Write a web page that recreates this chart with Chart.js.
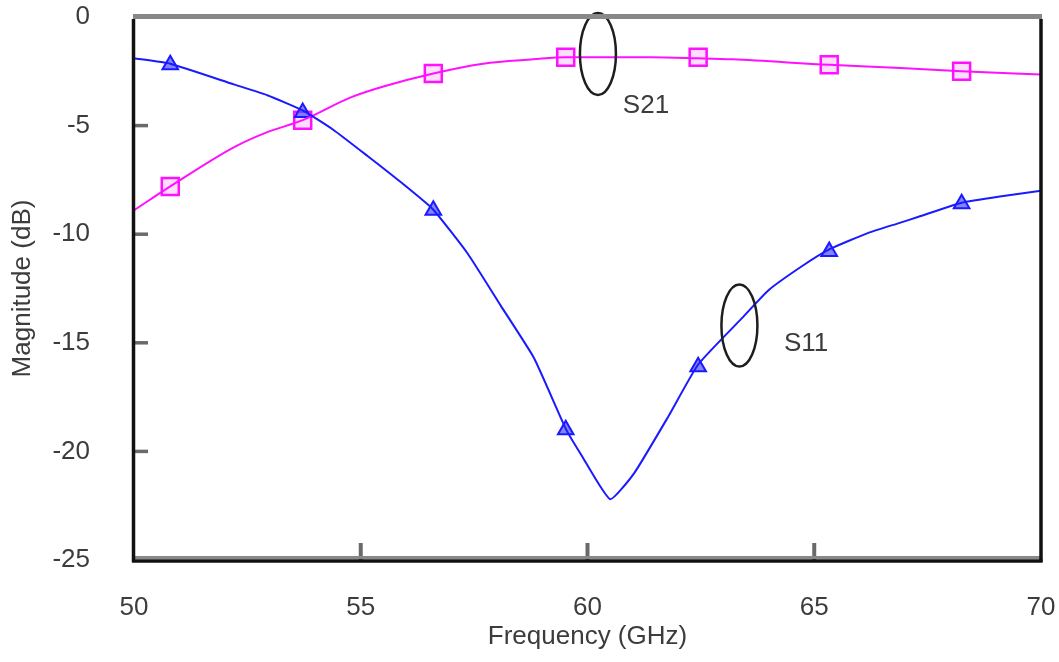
<!DOCTYPE html>
<html>
<head>
<meta charset="utf-8">
<script src="https://cdn.jsdelivr.net/npm/chart.js@4"></script>
<style>
  html, body { margin: 0; padding: 0; background: #fff; }
  #wrap { width: 1059px; height: 662px; }
</style>
</head>
<body>
<div id="wrap"><canvas id="chart" width="1059" height="662"></canvas></div>
<script>
// curves (GHz, dB)
const s11Freq = [50.0, 50.8, 52.2, 52.94, 53.72, 54.4, 55.15, 55.88, 56.59, 57.36, 58.09, 58.82, 59.52, 59.86, 60.5, 61.03, 61.78, 62.44, 63.39, 63.98, 64.71, 65.33, 66.18, 66.85, 67.3, 68.25, 69.13, 70.0];
const s11Mag  = [-1.9, -2.15, -3.1, -3.6, -4.3, -5.2, -6.4, -7.6, -8.85, -10.9, -13.3, -15.7, -18.95, -20.15, -22.2, -21.0, -18.4, -16.0, -13.9, -12.6, -11.5, -10.7, -9.95, -9.5, -9.2, -8.55, -8.25, -8.0];

const s21Freq = [50.0, 50.8, 52.2, 52.94, 53.72, 54.78, 55.5, 56.6, 57.7, 58.8, 59.52, 61.4, 62.44, 63.2, 65.33, 66.9, 68.25, 70.0];
const s21Mag  = [-8.9, -7.8, -6.0, -5.3, -4.75, -3.7, -3.2, -2.6, -2.15, -1.95, -1.85, -1.85, -1.9, -1.95, -2.2, -2.35, -2.5, -2.65];

// marker positions
const markerFreq = [50.8, 53.72, 56.6, 59.52, 62.44, 65.33, 68.25];
const s11Marks   = [-2.2, -4.4, -8.9, -19.0, -16.1, -10.8, -8.6];
const s21Marks   = [-7.8, -4.75, -2.6, -1.85, -1.85, -2.2, -2.5];

const xTicks = [50, 55, 60, 65, 70];
const yTicks = [0, -5, -10, -15, -20, -25];

const TEXT  = '#3c3c3c';
const FONT  = "'Liberation Sans', Arial, sans-serif";
const BLUE  = '#1a1aff';
const PINK  = '#ff10ff';

const zip = (xs, ys) => xs.map((x, i) => ({ x, y: ys[i] }));

// ellipse callouts + labels, and the frame with inward ticks
const decorPlugin = {
  id: 'decor',
  afterDatasetsDraw(chart) {
    const { ctx, scales: { x, y } } = chart;
    ctx.save();
    ctx.strokeStyle = '#1e1e1e';
    ctx.lineWidth = 2.5;
    [[60.23, -1.7], [63.35, -14.2]].forEach(([fx, fy]) => {
      ctx.beginPath();
      ctx.ellipse(x.getPixelForValue(fx), y.getPixelForValue(fy), 18, 41, 0, 0, Math.PI * 2);
      ctx.stroke();
    });
    ctx.fillStyle = TEXT;
    ctx.font = `26px ${FONT}`;
    ctx.textAlign = 'center';
    ctx.textBaseline = 'middle';
    ctx.fillText('S21', x.getPixelForValue(61.29), y.getPixelForValue(-4.1));
    ctx.fillText('S11', x.getPixelForValue(64.82), y.getPixelForValue(-15.07));
    ctx.restore();
  },
  afterDraw(chart) {
    const { ctx, chartArea: a, scales: { x, y } } = chart;
    ctx.save();
    // inward ticks
    ctx.strokeStyle = '#6a6a6a';
    ctx.lineWidth = 3.5;
    yTicks.slice(1, -1).forEach(v => {
      const py = y.getPixelForValue(v);
      ctx.beginPath(); ctx.moveTo(a.left, py); ctx.lineTo(a.left + 14, py); ctx.stroke();
    });
    ctx.lineWidth = 4;
    xTicks.slice(1, -1).forEach(v => {
      const px = x.getPixelForValue(v);
      ctx.beginPath(); ctx.moveTo(px, a.bottom); ctx.lineTo(px, a.bottom - 17); ctx.stroke();
    });
    // frame
    ctx.strokeStyle = '#888';
    ctx.lineWidth = 5;
    ctx.beginPath(); ctx.moveTo(a.left - 1, a.top - 0.5); ctx.lineTo(a.right + 1, a.top - 0.5); ctx.stroke();
    ctx.lineWidth = 3;
    ctx.beginPath(); ctx.moveTo(a.left, a.bottom - 2.5); ctx.lineTo(a.right, a.bottom - 2.5); ctx.stroke();
    ctx.strokeStyle = '#111';
    ctx.lineWidth = 3.5;
    ctx.beginPath(); ctx.moveTo(a.left - 0.5, a.top + 2); ctx.lineTo(a.left - 0.5, a.bottom + 2); ctx.stroke();
    ctx.beginPath(); ctx.moveTo(a.right, a.top + 2); ctx.lineTo(a.right, a.bottom + 2); ctx.stroke();
    ctx.beginPath(); ctx.moveTo(a.left - 2, a.bottom + 1); ctx.lineTo(a.right + 1.5, a.bottom + 1); ctx.stroke();
    ctx.restore();
  },
};

new Chart(document.getElementById('chart'), {
  type: 'line',
  data: {
    datasets: [
      {
        label:       'S11',
        data:        zip(s11Freq, s11Mag),
        borderColor: BLUE,
        borderWidth: 2,
        pointRadius: 0,
        tension:     0.15,
      },
      {
        label:       'S21',
        data:        zip(s21Freq, s21Mag),
        borderColor: PINK,
        borderWidth: 2,
        pointRadius: 0,
        cubicInterpolationMode: 'monotone',
      },
      {
        label:           'S11 marks',
        data:            zip(markerFreq, s11Marks),
        showLine:        false,
        pointStyle:      'triangle',
        pointRadius:     9,
        borderColor:     BLUE,
        backgroundColor: 'rgba(80, 80, 255, 0.7)',
        pointBorderWidth: 2,
      },
      {
        label:           'S21 marks',
        data:            zip(markerFreq, s21Marks),
        showLine:        false,
        pointStyle:      'rect',
        pointRadius:     12,
        borderColor:     PINK,
        backgroundColor: 'rgba(255, 120, 255, 0.25)',
        pointBorderWidth: 2.5,
      },
    ],
  },
  options: {
    responsive: false,
    animation:  false,
    layout: { padding: { top: 17, right: 18, left: 0, bottom: 0 } },
    plugins: {
      legend:  { display: false },
      tooltip: { enabled: false },
    },
    scales: {
      x: {
        type: 'linear',
        min:  50,
        max:  70,
        afterFit: s => { s.height = 102; s.paddingLeft = 0; s.paddingRight = 0; },
        afterBuildTicks: s => { s.ticks = xTicks.map(v => ({ value: v })); },
        grid:   { display: false },
        border: { display: false },
        ticks: {
          color:   TEXT,
          padding: 24,
          font:    { family: FONT, size: 26 },
          maxRotation: 0,
        },
        title: {
          display: true,
          text:    'Frequency (GHz)',
          color:   TEXT,
          font:    { family: FONT, size: 26 },
          padding: { top: 0, bottom: 10 },
        },
      },
      y: {
        min: -25,
        max: 0,
        afterFit: s => { s.width = 134; s.paddingTop = 0; s.paddingBottom = 0; },
        afterBuildTicks: s => { s.ticks = yTicks.map(v => ({ value: v })); },
        grid:   { display: false },
        border: { display: false },
        ticks: {
          color:   TEXT,
          padding: 36,
          font:    { family: FONT, size: 26 },
        },
        title: {
          display: true,
          text:    'Magnitude (dB)',
          color:   TEXT,
          font:    { family: FONT, size: 26 },
          padding: { top: 7, bottom: 0 },
        },
      },
    },
  },
  plugins: [decorPlugin],
});
</script>
</body>
</html>
